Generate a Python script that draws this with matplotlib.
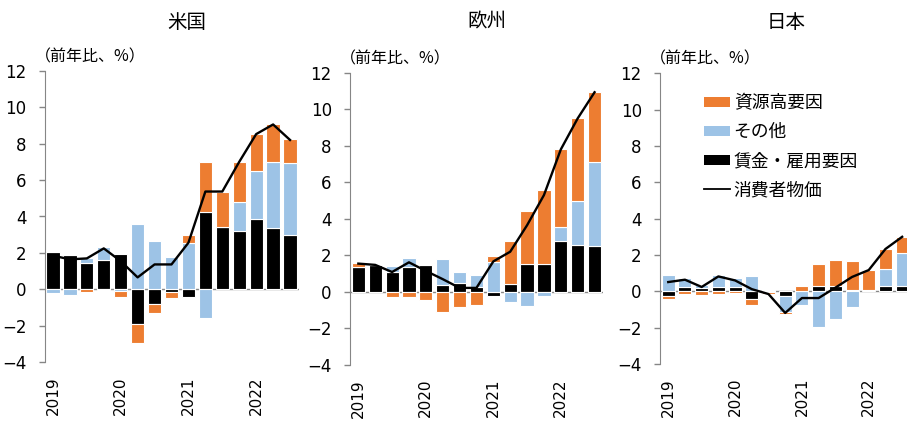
import numpy as np
import matplotlib.pyplot as plt
from matplotlib.patches import Patch
from matplotlib.lines import Line2D

plt.rcParams['font.family'] = ['DejaVu Sans', 'Noto Sans CJK JP']
JP_FONT = ['Noto Sans CJK JP', 'DejaVu Sans']

# quarterly, 2019Q1 - 2022Q3
years = ['2019', '2020', '2021', '2022']

titles = ['米国', '欧州', '日本']
series_names = ['賃金・雇用要因', 'その他', '資源高要因']
line_name = '消費者物価'

us_wage = [2.05, 1.88, 1.46, 1.61, 1.96, -1.92, -0.80, -0.13, -0.40, 4.26, 3.44, 3.20, 3.86, 3.35, 2.98]
us_other = [-0.22, -0.28, 0.24, 0.73, -0.10, 3.58, 2.65, 1.79, 2.52, -1.59, 0.0, 1.57, 2.65, 3.65, 3.93]
us_res = [0.0, 0.0, -0.12, -0.05, -0.32, -1.01, -0.52, -0.36, 0.46, 2.71, 1.92, 2.23, 2.01, 2.07, 1.32]
us_cpi = [1.85, 1.65, 1.70, 2.25, 1.55, 0.66, 1.37, 1.37, 2.56, 5.37, 5.37, 7.00, 8.52, 9.05, 8.20]

eu_wage = [1.35, 1.48, 1.09, 1.35, 1.48, 0.38, 0.49, 0.27, -0.20, 0.44, 1.53, 1.55, 2.77, 2.59, 2.50]
eu_other = [0.0, 0.0, 0.31, 0.51, 0.0, 1.44, 0.58, 0.68, 1.64, -0.55, -0.78, -0.24, 0.78, 2.38, 4.59]
eu_res = [0.23, 0.0, -0.29, -0.27, -0.42, -1.09, -0.82, -0.73, 0.31, 2.33, 2.88, 4.01, 4.26, 4.54, 3.84]
eu_cpi = [1.55, 1.48, 1.09, 1.62, 1.15, 0.70, 0.22, 0.22, 1.67, 2.20, 3.65, 5.30, 7.80, 9.50, 10.93]

jp_wage = [-0.27, 0.24, 0.18, 0.24, 0.24, -0.42, -0.05, -0.27, 0.0, 0.31, 0.31, 0.05, 0.05, 0.31, 0.31]
jp_other = [0.90, 0.47, 0.15, 0.68, 0.49, 0.82, 0.05, -0.88, -0.73, -1.96, -1.52, -0.86, 0.0, 0.92, 1.79]
jp_res = [-0.13, -0.13, -0.22, -0.13, -0.10, -0.35, -0.10, -0.08, 0.27, 1.21, 1.43, 1.60, 1.10, 1.10, 0.88]
jp_cpi = [0.51, 0.64, 0.24, 0.82, 0.60, 0.12, -0.15, -1.19, -0.37, -0.37, 0.20, 0.79, 1.17, 2.33, 3.00]

panels = [
    (us_wage, us_other, us_res, us_cpi),
    (eu_wage, eu_other, eu_res, eu_cpi),
    (jp_wage, jp_other, jp_res, jp_cpi),
]
colors = ['#000000', '#9DC3E6', '#ED7D31']

W, H = 907, 421
fig = plt.figure(figsize=(W / 100, H / 100), dpi=100)

# axes rects in pixels: left, top(y=12), right, bottom(y=-4)
rects = [(44.5, 70.7, 298.5, 362.3), (349.9, 72.7, 603.0, 365.0), (659.9, 73.3, 910.5, 364.0)]
title_x = [187, 487, 786]

for (l, t, r, b), data, title, tx in zip(rects, panels, titles, title_x):
    ax = fig.add_axes([l / W, 1 - b / H, (r - l) / W, (b - t) / H])
    x = np.arange(len(data[3]))
    pos = np.zeros(len(x))
    neg = np.zeros(len(x))
    for vals, c in zip(data[:3], colors):
        v = np.array(vals)
        base = np.where(v >= 0, pos, neg)
        ax.bar(x, v, bottom=base, width=0.78, color=c, edgecolor='white', linewidth=0.8, zorder=2)
        pos += np.where(v >= 0, v, 0)
        neg += np.where(v < 0, v, 0)
    ax.plot(x, data[3], color='black', lw=1.7, zorder=3)
    ax.axhline(0, color='#868686', lw=1, zorder=1)

    ax.set_xlim(-0.5, len(x) - 0.5)
    ax.set_ylim(-4, 12)
    ax.set_yticks(range(-4, 13, 2))
    ax.set_xticks([0, 4, 8, 12])
    ax.set_xticklabels(years, rotation=90, fontsize=11, va='top', ha='center')
    ax.tick_params(axis='x', length=0, pad=10)
    ax.tick_params(axis='y', direction='out', length=4, width=1, color='#868686',
                   labelsize=12, pad=9)
    for s in ['top', 'right', 'bottom']:
        ax.spines[s].set_visible(False)
    ax.spines['left'].set_color('#868686')
    ax.patch.set_alpha(0)

    ax.annotate('（前年比、%）', xy=(0, 1), xycoords='axes fraction',
                xytext=(-7, 10), textcoords='offset points',
                ha='left', va='center', fontsize=11.5, family=JP_FONT)
    fig.text(tx / W, 1 - 22 / H, title, ha='center', va='center', fontsize=14, family=JP_FONT)

handles = [
    Patch(facecolor=colors[2], label=series_names[2]),
    Patch(facecolor=colors[1], label=series_names[1]),
    Patch(facecolor=colors[0], label=series_names[0]),
    Line2D([], [], color='black', lw=1.3, label=line_name),
]
fig.legend(handles=handles, loc='upper left', bbox_to_anchor=(704 / W, 1 - 94 / H),
           bbox_transform=fig.transFigure, frameon=False, borderpad=0, borderaxespad=0,
           handlelength=1.45, handleheight=0.5, handletextpad=0.22, labelspacing=0.62,
           prop={'family': JP_FONT, 'size': 12.8})

fig.savefig('out.png', dpi=100)
